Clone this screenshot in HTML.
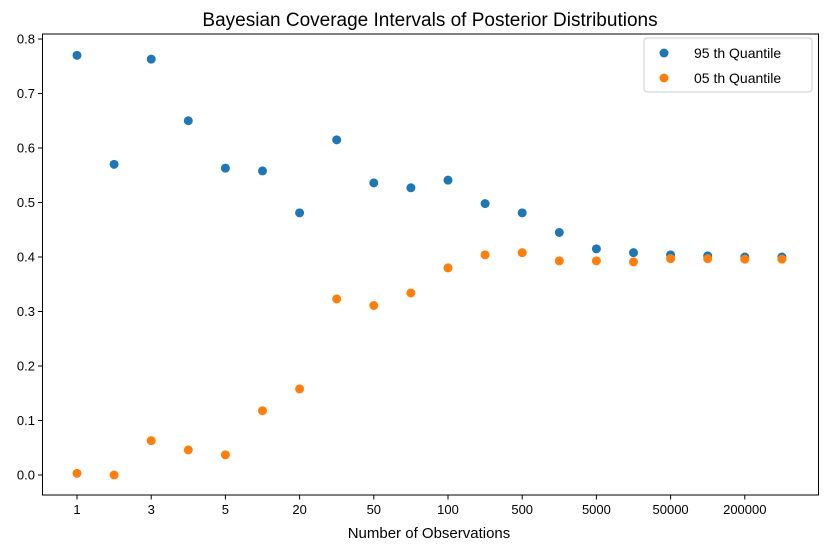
<!DOCTYPE html>
<html><head><style>body{margin:0;background:#fff}svg{display:block}</style></head>
<body>
<svg width="826" height="550" xmlns="http://www.w3.org/2000/svg" font-family="Liberation Sans, DejaVu Sans, sans-serif">
<rect width="826" height="550" fill="#fff"/>
<text x="430" y="26" font-size="19" text-anchor="middle" fill="#000">Bayesian Coverage Intervals of Posterior Distributions</text>
<rect x="42.5" y="34" width="776" height="461" fill="none" stroke="#000" stroke-width="1"/>
<g font-size="13" fill="#000" text-anchor="end" id="yt"></g>
<g font-size="13" fill="#000" text-anchor="middle" id="xt"></g>
<text x="429" y="538" font-size="15" text-anchor="middle">Number of Observations</text>
<g id="pts"></g>
<rect x="644" y="38" width="168" height="54" rx="3" fill="#fff" stroke="#ccc"/>
<circle cx="664" cy="53" r="4.5" fill="#1f77b4"/>
<text x="694" y="58" font-size="14">95 th Quantile</text>
<circle cx="664" cy="78" r="4.5" fill="#ff7f0e"/>
<text x="694" y="83" font-size="14">05 th Quantile</text>
<script>
var ns="http://www.w3.org/2000/svg";
function el(t,a,p,txt){var e=document.createElementNS(ns,t);for(var k in a)e.setAttribute(k,a[k]);if(txt)e.textContent=txt;document.getElementById(p).appendChild(e);}
function Y(v){return 475-v*545;}
for(var i=0;i<=8;i++){var y=Y(i/10);el('line',{x1:38,x2:42.5,y1:y,y2:y,stroke:'#000'},'yt');el('text',{x:35,y:y+4.5},'yt',(i/10).toFixed(1));}
var xl=['1','3','5','20','50','100','500','5000','50000','200000'];
function X(i){return 77+i*37.1;}
for(var i=0;i<10;i++){var x=X(2*i);el('line',{x1:x,x2:x,y1:495,y2:499.5,stroke:'#000'},'xt');el('text',{x:x,y:514},'xt',xl[i]);}
var b=[0.77,0.57,0.763,0.65,0.563,0.558,0.481,0.615,0.536,0.527,0.541,0.498,0.481,0.445,0.415,0.408,0.404,0.402,0.400,0.400];
var o=[0.003,0.0,0.063,0.046,0.037,0.118,0.158,0.323,0.311,0.334,0.380,0.404,0.408,0.393,0.393,0.391,0.397,0.397,0.396,0.396];
for(var i=0;i<20;i++){el('circle',{cx:X(i),cy:Y(b[i]),r:4.5,fill:'#1f77b4'},'pts');}
for(var i=0;i<20;i++){el('circle',{cx:X(i),cy:Y(o[i]),r:4.5,fill:'#ff7f0e'},'pts');}
</script>
</svg>
</body></html>
